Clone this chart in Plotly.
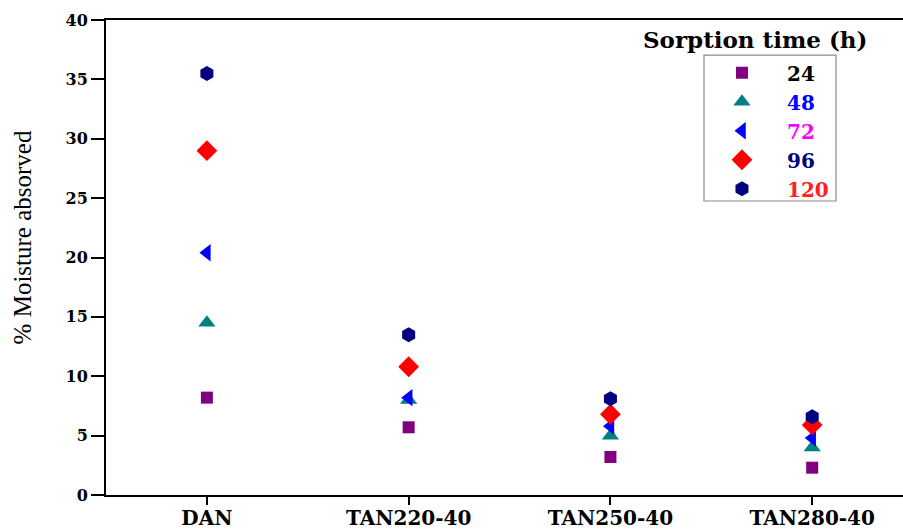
import plotly.graph_objects as go

categories = ["DAN", "TAN220-40", "TAN250-40", "TAN280-40"]
times = ["24", "48", "72", "96", "120"]
v24 = [8.2, 5.7, 3.2, 2.3]
v48 = [14.5, 8.0, 5.0, 4.0]
v72 = [20.4, 8.2, 5.8, 4.8]
v96 = [29.0, 10.8, 6.8, 5.9]
v120 = [35.5, 13.5, 8.1, 6.6]
series = [v24, v48, v72, v96, v120]

symbols = ["square", "triangle-up", "triangle-left", "diamond", "hexagon"]
colors = ["#800080", "#008080", "#0000FF", "#FF0000", "#000080"]
sizes = [12, 15, 15, 16, 15]
label_colors = ["#000000", "#0000FF", "#FF00FF", "#000080", "#FF2020"]

bold_font = "DejaVu Serif, serif"
reg_font = "Liberation Serif, Times New Roman, serif"

fig = go.Figure()
for t, vals, sym, col, sz, lc in zip(times, series, symbols, colors, sizes, label_colors):
    fig.add_trace(go.Scatter(
        x=categories, y=vals, mode="markers",
        name=f"<span style='color:{lc}'>{t}</span>",
        marker=dict(symbol=sym, color=col, size=sz, line=dict(width=0)),
    ))

fig.update_layout(
    width=903, height=532,
    margin=dict(l=106, r=0, t=20, b=37, autoexpand=False),
    plot_bgcolor="white", paper_bgcolor="white",
    font=dict(family=reg_font, color="black"),
    showlegend=True,
    legend=dict(
        x=0.7415, y=0.93, xanchor="left", yanchor="top",
        borderwidth=0, bgcolor="rgba(0,0,0,0)",
        font=dict(family=bold_font, size=20, color="black", weight="bold"),
        tracegroupgap=0, itemsizing="trace", itemwidth=80,
    ),
    shapes=[dict(
        type="rect", xref="paper", yref="paper",
        x0=0.7503, x1=0.916, y0=0.619, y1=0.926,
        line=dict(color="#8a8a8a", width=1.2), fillcolor="rgba(0,0,0,0)",
    )],
    annotations=[
        dict(
            text="Sorption time (h)", x=0.814, y=0.958, xref="paper", yref="paper",
            xanchor="center", yanchor="middle", showarrow=False,
            font=dict(family=bold_font, size=23, color="black", weight="bold"),
        ),
        dict(
            text="% Moisture absorved", x=-0.105, y=0.543, xref="paper", yref="paper",
            xanchor="center", yanchor="middle", showarrow=False, textangle=-90,
            font=dict(family=reg_font, size=25, color="black"),
        ),
    ],
)
fig.update_xaxes(
    type="category", range=[-0.5, 3.45], automargin=False,
    showline=True, linecolor="black", linewidth=2, mirror=True,
    ticks="outside", ticklen=8, tickwidth=2, tickcolor="black",
    ticklabelstandoff=-4,
    tickfont=dict(family=bold_font, size=20, color="black", weight="bold"),
    showgrid=False, zeroline=False,
)
fig.update_yaxes(
    range=[0, 40], dtick=5, automargin=False,
    showline=True, linecolor="black", linewidth=2,
    ticks="outside", ticklen=13, tickwidth=2, tickcolor="black",
    tickfont=dict(family=bold_font, size=16, color="black", weight="bold"),
    showgrid=False, zeroline=False,
)

fig.write_html("out.html")
